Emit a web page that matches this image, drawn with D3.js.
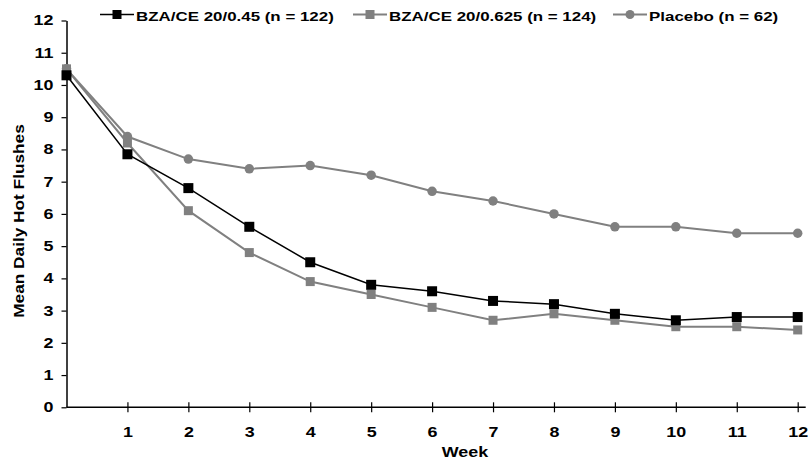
<!DOCTYPE html>
<html>
<head>
<meta charset="utf-8">
<script src="https://cdn.jsdelivr.net/npm/d3@7"></script>
<style>
  body { margin: 0; background: #fff; }
  text { font-family: "Liberation Sans", Arial, sans-serif; font-weight: bold; }
</style>
</head>
<body>
<div id="chart"></div>
<script>
// Dades
const weeks = [0, 1, 2, 3, 4, 5, 6, 7, 8, 9, 10, 11, 12];
const bza045 = [10.3, 7.85, 6.8, 5.6, 4.5, 3.8, 3.6, 3.3, 3.2, 2.9, 2.7, 2.8, 2.8];
const bza0625 = [10.5, 8.2, 6.1, 4.8, 3.9, 3.5, 3.1, 2.7, 2.9, 2.7, 2.5, 2.5, 2.4];
const placebo = [10.5, 8.4, 7.7, 7.4, 7.5, 7.2, 6.7, 6.4, 6.0, 5.6, 5.6, 5.4, 5.4];
const seriesNames = ["BZA/CE 20/0.45 (n = 122)", "BZA/CE 20/0.625 (n = 124)", "Placebo (n = 62)"];
const yTicks = [0, 1, 2, 3, 4, 5, 6, 7, 8, 9, 10, 11, 12];
const xTicks = [1, 2, 3, 4, 5, 6, 7, 8, 9, 10, 11, 12];

const series = [
    { name: seriesNames[0], values: bza045, color: "#000000", shape: "square", size: 10, lw: 1.5 },
    { name: seriesNames[1], values: bza0625, color: "#808080", shape: "square", size: 9, lw: 2 },
    { name: seriesNames[2], values: placebo, color: "#808080", shape: "circle", size: 9.5, lw: 2 }
];

const W = 811, H = 462;
const sx = 1.28;   // el text de l'original està estirat horitzontalment

const svg = d3.select("#chart").append("svg")
    .attr("width", W).attr("height", H);

const x = d3.scaleLinear().domain([0, 12]).range([66.5, 797.7]);
const y = d3.scaleLinear().domain([0, 12]).range([407.3, 20.5]);

// Eix Y
const yAxis = svg.append("g")
    .attr("transform", `translate(${x(0)},0)`)
    .call(d3.axisLeft(y).tickValues(yTicks).tickSize(5).tickSizeOuter(0).tickPadding(8));
yAxis.select(".domain").attr("stroke", "#000").attr("stroke-width", 1.5);
yAxis.selectAll(".tick line").attr("stroke", "#000").attr("stroke-width", 1.2);
yAxis.selectAll(".tick text")
    .style("font-size", "14px").attr("fill", "#000")
    .attr("x", -13 / sx)
    .attr("transform", `scale(${sx},1)`);

// Eix X
const xAxis = svg.append("g")
    .attr("transform", `translate(0,${y(0)})`)
    .call(d3.axisBottom(x).tickValues(xTicks).tickSize(5).tickSizeOuter(0).tickPadding(15));
xAxis.select(".domain").remove();
xAxis.selectAll(".tick line").attr("y1", -5).attr("stroke", "#000").attr("stroke-width", 1.2);
xAxis.selectAll(".tick text")
    .style("font-size", "14px").attr("fill", "#000")
    .attr("transform", `scale(${sx},1)`);
xAxis.append("line")
    .attr("x1", x(0)).attr("x2", x(12) + 8)
    .attr("stroke", "#000").attr("stroke-width", 1.5);

// Títols dels eixos
svg.append("text")
    .attr("transform", `translate(23.5,221) rotate(-90) scale(1.15,1)`)
    .attr("text-anchor", "middle")
    .style("font-size", "15px")
    .text("Mean Daily Hot Flushes");

svg.append("text")
    .attr("transform", `translate(465,456.5) scale(${sx},1)`)
    .attr("text-anchor", "middle")
    .style("font-size", "14px")
    .text("Week");

// Línies i marcadors
const line = d3.line()
    .x((d, i) => x(weeks[i]))
    .y(d => y(d));

function drawMarker(g, s, cx, cy, size) {
    if (s.shape === "square") {
        g.append("rect")
            .attr("x", cx - size / 2).attr("y", cy - size / 2)
            .attr("width", size).attr("height", size)
            .attr("fill", s.color);
    } else {
        g.append("circle")
            .attr("cx", cx).attr("cy", cy).attr("r", size / 2)
            .attr("fill", s.color);
    }
}

[2, 1, 0].forEach(k => {
    const s = series[k];
    const g = svg.append("g");
    g.append("path")
        .datum(s.values)
        .attr("d", line)
        .attr("fill", "none")
        .attr("stroke", s.color)
        .attr("stroke-width", s.lw);
    s.values.forEach((v, i) => drawMarker(g, s, x(weeks[i]), y(v), s.size));
});

// Llegenda
const legendX = [100, 353, 613];
series.forEach((s, k) => {
    const g = svg.append("g").attr("transform", `translate(${legendX[k]},14.5)`);
    g.append("line")
        .attr("x1", 0).attr("x2", 34)
        .attr("stroke", s.color).attr("stroke-width", s.lw);
    drawMarker(g, s, 17, 0, 9);
    g.append("text")
        .attr("transform", `translate(36,6) scale(1.41,1)`)
        .style("font-size", "12px")
        .text(s.name);
});
</script>
</body>
</html>
